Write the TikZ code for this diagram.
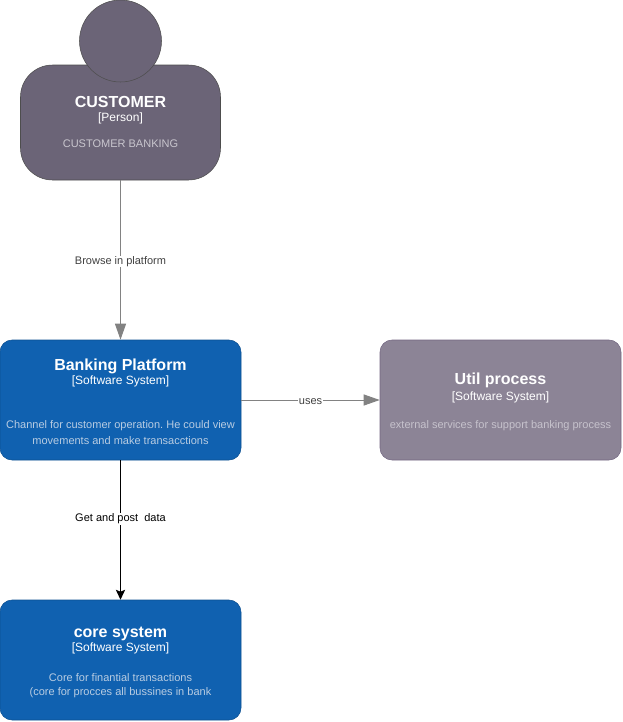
\documentclass[tikz,border=0pt]{standalone}
\usepackage{fontspec}
\setmainfont{Liberation Sans}
\frenchspacing
\usetikzlibrary{%
  arrows.meta%
  ,positioning%
}
\definecolor{personfill}{HTML}{6B6477}
\definecolor{personline}{HTML}{4D4D4D}
\definecolor{systemfill}{HTML}{1061B0}
\definecolor{systemline}{HTML}{0D5091}
\definecolor{utilfill}{HTML}{8C8496}
\definecolor{utilline}{HTML}{736782}
\definecolor{edgegray}{HTML}{828282}
\definecolor{persondesc}{HTML}{C9C6CE}
\definecolor{systemdesc}{HTML}{B8CCE2}
\definecolor{utildesc}{HTML}{C6C2CC}
\newcommand{\boxtitle}[1]{{\fontsize{12}{15}\selectfont\bfseries\rule{0pt}{11pt}#1}}
\newcommand{\boxtype}[1]{{\fontsize{9}{11}\selectfont #1}}
\tikzset{%
  c4box/.style={draw,rounded corners=9pt,minimum width=180.75pt,minimum height=90pt,
    inner sep=0pt,align=center,text=white,font=\fontsize{8.25}{12}\selectfont},
  platformbox/.style={c4box,fill=systemfill,draw=systemline},
  utilbox/.style={c4box,fill=utilfill,draw=utilline},
  personbox/.style={c4box,fill=personfill,draw=personline,rounded corners=24pt,
    minimum width=150pt,minimum height=86.25pt},
  personhead/.style={draw=personline,fill=personfill,circle,inner sep=0pt,minimum size=61.5pt},
  edgelabel/.style={fill=white,inner sep=.5pt,yshift=-1.2pt,font=\fontsize{8.25}{10}\selectfont},
  bigedge/.style={draw=edgegray,line width=.75pt,-{Triangle[length=12pt,width=8.25pt]}},
  coreedge/.style={draw=black,line width=.75pt,-{Stealth[length=7.5pt,width=7pt,inset=1.5pt]}},
}
\begin{document}
\begin{tikzpicture}[x=.75pt,y=-.75pt]
  \useasboundingbox (0,0) rectangle (622,722);
  \node[personbox] (customer) at (120.5,122.5) {\boxtitle{CUSTOMER}\\[-1.5pt]\boxtype{[Person]}\\[8pt]
    \textcolor{persondesc}{CUSTOMER BANKING}\rule[-3.5pt]{0pt}{3.5pt}};
  \node[personhead] (head) at (120.5,41) {};
  \node[platformbox] (platform) at (120.5,400) {\boxtitle{Banking Platform}\\[-1.5pt]\boxtype{[Software System]}\\[21pt]
    \textcolor{systemdesc}{Channel for customer operation. He could view}\\
    \textcolor{systemdesc}{movements and make transacctions}};
  \node[utilbox] (util) at (500.5,400) {\boxtitle{Util process}\\[0pt]\boxtype{[Software System]}\\[9pt]
    \textcolor{utildesc}{external services for support banking process}};
  \node[platformbox] (core) at (120.5,660) {\boxtitle{core system}\\[-1pt]\boxtype{[Software System]}\\[10pt]
    \textcolor{systemdesc}{Core for finantial transactions}\\[-1.5pt]
    \textcolor{systemdesc}{(core for procces all bussines in bank}};
  \draw[bigedge] (customer) -- node[edgelabel,text=black!75] (browse) {Browse in platform} (platform);
  \draw[bigedge] (platform) -- node[edgelabel,text=black!75] (uses) {uses} (util);
  \draw[coreedge] (platform) -- node[edgelabel,pos=.41,text=black] (getpost) {Get and post\ \ data} (core);
\end{tikzpicture}
\end{document}
